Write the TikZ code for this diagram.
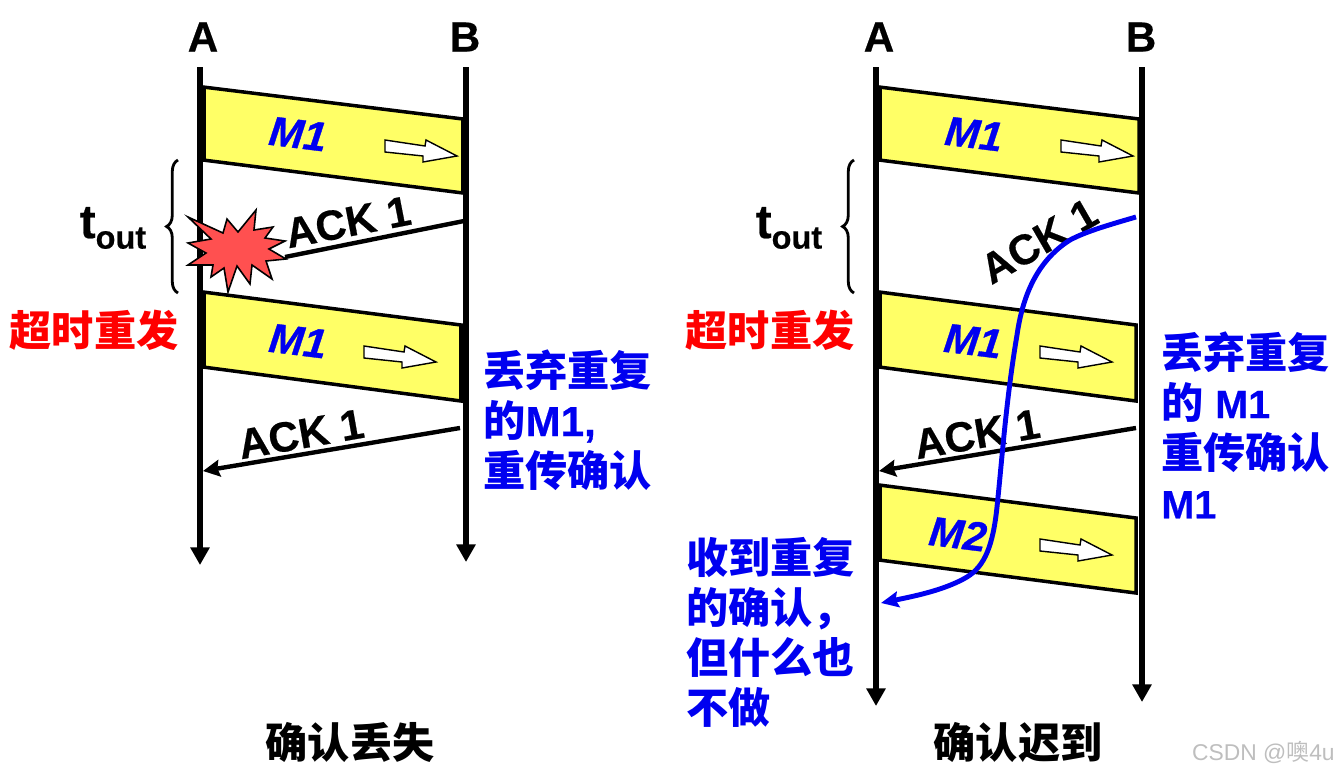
\documentclass[tikz,border=0pt]{standalone}
\usepackage{fontspec}
\setmainfont{Liberation Sans}[BoldFeatures={FakeBold=0.5},BoldItalicFeatures={FakeBold=0.8}]
\newfontfamily\cjk{Noto Sans CJK SC}
\usepackage{xcolor}
\usetikzlibrary{arrows.meta,decorations.pathreplacing}
\definecolor{pktfill}{RGB}{255,255,102}
\definecolor{burstred}{RGB}{255,80,80}
\definecolor{notered}{RGB}{255,0,0}
\definecolor{noteblue}{RGB}{0,0,240}
\definecolor{markgray}{RGB}{190,190,190}
\tikzset{
  life/.style={-{Triangle[length=10pt,width=10.5pt]},line width=3pt},
  pkt/.style={draw,fill=pktfill,line width=2pt,line join=miter},
  edgeA/.style={line width=4pt},
  ack/.style={line width=2.5pt},
  ackar/.style={ack,-{Stealth[length=9.5pt,width=9.5pt,inset=1.2pt]}},
  late/.style={line width=2.8pt,noteblue,-{Stealth[length=10pt,width=9pt,inset=1.5pt]}},
  host/.style={font=\fontsize{24}{28}\bfseries},
  pname/.style={font=\fontsize{23.5}{28}\bfseries\itshape,text=noteblue,rotate=-7},
  acklbl/.style={font=\fontsize{24}{28}\bfseries},
  note/.style={font=\fontsize{24}{28.5}\selectfont\bfseries,align=left,anchor=north west,inner sep=0pt,text=noteblue},
  redlbl/.style={font=\cjk\fontsize{24}{28}\selectfont\bfseries,text=notered},
  capt/.style={font=\cjk\fontsize{24}{28}\selectfont\bfseries},
  hollow/.pic={
    \draw[fill=white,line width=0.8pt] (0,0) -- (40,6) -- (41,0) -- (72,16) -- (38,22) -- (38,16) -- (0,12) -- cycle;
  },
}
\newcommand{\zh}[1]{{\cjk #1}}
\newcommand{\nm}[1]{{\fontsize{22.5}{28.5}\selectfont #1}}

\begin{document}
\begin{tikzpicture}[x=0.2mm,y=-0.2mm]
  \useasboundingbox (0,0) rectangle (1338,773);
  % left panel
  \coordinate (lAtop) at (200,67);
  \coordinate (lAend) at (200,565);
  \coordinate (lBtop) at (466,67);
  \coordinate (lBend) at (466,562);
  \draw[life] (lAtop) -- (lAend);
  \draw[life] (lBtop) -- (lBend);
  \node[host] (lA) at (203,37) {A};
  \node[host] (lB) at (465,37) {B};

  \draw[pkt] (203,87) -- (463,119) -- (463,193) -- (203,160) -- cycle;
  \draw[edgeA] (202,87) -- (202,160);
  \node[pname] (lm1) at (298,134) {M1};
  \pic at (385,140) {hollow};

  \draw[pkt] (203,292) -- (461,325) -- (461,401) -- (203,367) -- cycle;
  \draw[edgeA] (202,292) -- (202,367);
  \node[pname] (lm2) at (298,341) {M1};
  \pic at (364,346) {hollow};

  \coordinate (lack1s) at (464,221);
  \coordinate (lack1e) at (285,257);
  \draw[ack] (lack1s) -- (lack1e);
  \node[acklbl,rotate=11] (lack1) at (348,222) {ACK 1};
  \draw[fill=burstred,line width=0.9pt] (188,217) -- (223,233) -- (227,219) -- (238,232) -- (256,210)
    -- (254,230) -- (273,227) -- (265,238) -- (285,241) -- (269,249) -- (286,259) -- (266,261)
    -- (272,279) -- (252,265) -- (250,284) -- (237,266) -- (228,292) -- (224,268) -- (211,277)
    -- (213,265) -- (188,265) -- (206,253) -- (188,243) -- (211,239) -- cycle;

  \coordinate (lack2s) at (460,428);
  \coordinate (lack2e) at (203,471);
  \draw[ackar] (lack2s) -- (lack2e);
  \node[acklbl,rotate=10] (lack2) at (301,434) {ACK 1};

  \coordinate (lbr1) at (178,293);
  \coordinate (lbr2) at (178,160);
  \draw[line width=1.6pt,decorate,decoration={brace,amplitude=6.5pt}] (lbr1) -- (lbr2);
  \node[font=\fontsize{27}{28}\bfseries] (ltout) at (113,228) {t\raisebox{-6pt}{\fontsize{18.5}{20}\selectfont out}};
  \node[redlbl] (lresend) at (94,330) {超时重发};
  \node[note] (lnote) at (483,349) {\zh{丢弃重复}\\\zh{的}M1,\\\zh{重传确认}};
  \node[capt] (lcap) at (350,742) {确认丢失};

  % right panel
  \coordinate (rAtop) at (876,67);
  \coordinate (rAend) at (876,706);
  \coordinate (rBtop) at (1142,67);
  \coordinate (rBend) at (1142,702);
  \draw[life] (rAtop) -- (rAend);
  \draw[life] (rBtop) -- (rBend);
  \node[host] (rA) at (879,37) {A};
  \node[host] (rB) at (1141,37) {B};

  \draw[pkt] (879,87) -- (1139,119) -- (1139,193) -- (879,160) -- cycle;
  \draw[edgeA] (878,87) -- (878,160);
  \node[pname] (rm1) at (974,134) {M1};
  \pic at (1061,140) {hollow};

  \draw[pkt] (879,292) -- (1136,325) -- (1136,401) -- (879,367) -- cycle;
  \draw[edgeA] (878,292) -- (878,367);
  \node[pname] (rm2) at (973,341) {M1};
  \pic at (1040,346) {hollow};

  \draw[pkt] (879,485) -- (1136,518) -- (1136,593) -- (879,560) -- cycle;
  \draw[edgeA] (878,485) -- (878,560);
  \node[pname] (rm3) at (958,534) {M2};
  \pic at (1040,539) {hollow};

  \node[acklbl,rotate=30] (rack1) at (1039,241) {ACK 1};
  \coordinate (rack2s) at (1136,428);
  \coordinate (rack2e) at (879,471);
  \draw[ackar] (rack2s) -- (rack2e);
  \node[acklbl,rotate=10] (rack2) at (977,434) {ACK 1};

  \coordinate (lates) at (1136,217);
  \coordinate (latee) at (881,603);
  \draw[late] (lates) .. controls (1105,226) and (1085,232) .. (1070,240)
    .. controls (1035,262) and (1022,300) .. (1017,335)
    .. controls (1006,400) and (1002,460) .. (997,507)
    .. controls (993,545) and (985,566) .. (967,577)
    .. controls (945,590) and (915,596) .. (latee);

  \coordinate (rbr1) at (854,293);
  \coordinate (rbr2) at (854,160);
  \draw[line width=1.6pt,decorate,decoration={brace,amplitude=6.5pt}] (rbr1) -- (rbr2);
  \node[font=\fontsize{27}{28}\bfseries] (rtout) at (789,228) {t\raisebox{-6pt}{\fontsize{18.5}{20}\selectfont out}};
  \node[redlbl] (rresend) at (770,330) {超时重发};
  \node[note] (rnote) at (1161,331) {\zh{丢弃重复}\\\zh{的} \nm{M1}\\\zh{重传确认}\\\nm{M1}};
  \node[note] (rnote2) at (686,537) {\zh{收到重复}\\\zh{的确认，}\\\zh{但什么也}\\\zh{不做}};
  \node[capt] (rcap) at (1018,742) {确认迟到};

  \node[font=\fontsize{13}{15}\selectfont,text=markgray,anchor=east,inner sep=0pt] (wmark) at (1335,752) {CSDN @\zh{噢}4u};
\end{tikzpicture}
\end{document}
